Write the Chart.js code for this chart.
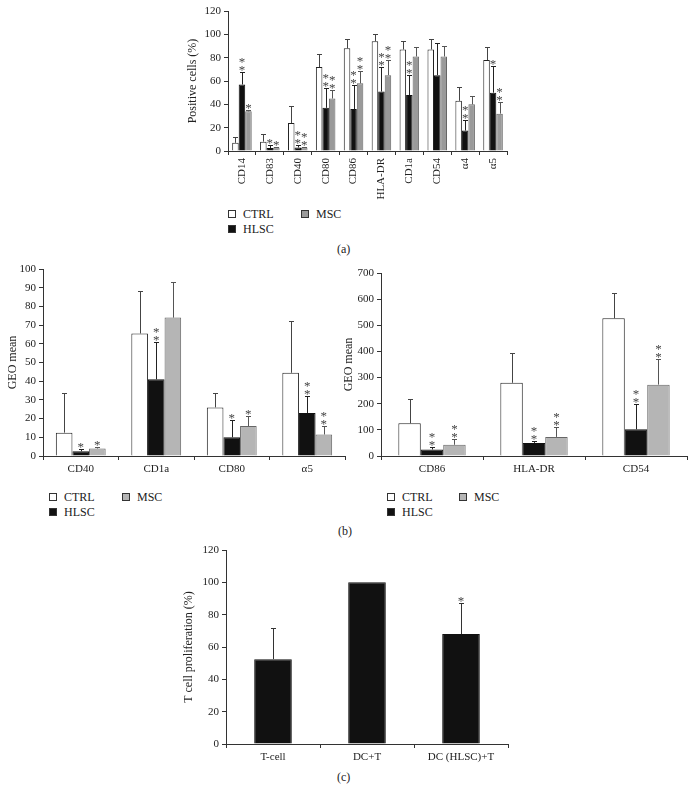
<!DOCTYPE html>
<html>
<head>
<meta charset="utf-8">
<script src="https://cdn.jsdelivr.net/npm/chart.js@4/dist/chart.umd.min.js"></script>
<style>
body{margin:0;background:#fff;width:693px;height:799px;position:relative;overflow:hidden;font-family:"Liberation Serif",serif;color:#222}
.box{position:absolute}
.lg{position:absolute;font-family:"Liberation Serif",serif;font-size:12px;line-height:12px;white-space:nowrap}
.sw{display:inline-block;width:6px;height:6px;border:1px solid #333;margin-right:7px;vertical-align:0px}
.cap{position:absolute;font-family:"Liberation Serif",serif;font-size:12px}
</style>
</head>
<body>
<div class="box" style="left:184px;top:0;width:327px;height:205px"><canvas id="chartA"></canvas></div>
<div class="box" style="left:4px;top:258px;width:344px;height:222px"><canvas id="chartB1"></canvas></div>
<div class="box" style="left:340px;top:258px;width:350px;height:222px"><canvas id="chartB2"></canvas></div>
<div class="box" style="left:180px;top:540px;width:332px;height:230px"><canvas id="chartC"></canvas></div>

<div class="lg" style="left:228px;top:208px"><span class="sw" style="background:#fff"></span>CTRL</div>
<div class="lg" style="left:228px;top:223px"><span class="sw" style="background:#111"></span>HLSC</div>
<div class="lg" style="left:301px;top:208px"><span class="sw" style="background:#9a9a9a"></span>MSC</div>
<div class="cap" style="left:337px;top:242px">(a)</div>

<div class="lg" style="left:49px;top:491px"><span class="sw" style="background:#fff"></span>CTRL</div>
<div class="lg" style="left:49px;top:506px"><span class="sw" style="background:#111"></span>HLSC</div>
<div class="lg" style="left:122px;top:491px"><span class="sw" style="background:#b5b5b5"></span>MSC</div>
<div class="lg" style="left:387px;top:491px"><span class="sw" style="background:#fff"></span>CTRL</div>
<div class="lg" style="left:387px;top:506px"><span class="sw" style="background:#111"></span>HLSC</div>
<div class="lg" style="left:459px;top:491px"><span class="sw" style="background:#b5b5b5"></span>MSC</div>
<div class="cap" style="left:338px;top:524px">(b)</div>

<div class="cap" style="left:337px;top:770px">(c)</div>

<script>
// ---------------------- data ---------------------
var markersA = ["CD14", "CD83", "CD40", "CD80", "CD86", "HLA-DR", "CD1a", "CD54", "α4", "α5"];
var ctrlA = [7, 8, 24, 72, 88, 94, 87, 87, 43, 78];
var ctrlErrA = [12, 15, 39, 83, 96, 100, 94, 96, 55, 89];
var hlscA = [57, 2.5, 3, 37, 36, 51, 48, 65, 17.5, 50];
var hlscErrA = [68, 5, 5, 54, 57, 72, 65, 93, 27, 73];
var hlscStarsA = [2, 1, 2, 2, 2, 2, 2, 0, 2, 1];
var mscA = [34, 3, 3, 45, 58, 65, 81, 81, 40, 32];
var mscErrA = [35, 3.5, 3.5, 52, 69, 78, 89, 90, 47, 42];
var mscStarsA = [1, 1, 2, 2, 2, 2, 0, 0, 0, 2];

var markersB1 = ["CD40", "CD1a", "CD80", "α5"];
var ctrlB1 = [12.5, 65.5, 26, 44.5];
var ctrlErrB1 = [33.5, 88, 33.5, 72];
var hlscB1 = [2.5, 41, 10, 23];
var hlscErrB1 = [4, 61, 19, 32];
var hlscStarsB1 = [1, 2, 1, 2];
var mscB1 = [4, 74, 16, 11.5];
var mscErrB1 = [5, 93, 21.5, 16];
var mscStarsB1 = [1, 0, 1, 2];

var markersB2 = ["CD86", "HLA-DR", "CD54"];
var ctrlB2 = [125, 280, 527];
var ctrlErrB2 = [217, 393, 622];
var hlscB2 = [25, 50, 102];
var hlscErrB2 = [33, 58, 200];
var hlscStarsB2 = [2, 2, 2];
var mscB2 = [43, 73, 273];
var mscErrB2 = [65, 112, 371];
var mscStarsB2 = [2, 2, 2];

var groupsC = ["T-cell", "DC+T", "DC (HLSC)+T"];
var prolifC = [52.5, 100, 68];
var prolifErrC = [71.5, null, 87.5];
var prolifStarsC = [0, 0, 1];

// ---------------------- error bars + stars ---------------------
var errStars = {
  id: 'errStars',
  afterDatasetsDraw: function(chart) {
    var ctx = chart.ctx, yScale = chart.scales.y;
    ctx.save();
    chart.data.datasets.forEach(function(ds, i) {
      var meta = chart.getDatasetMeta(i);
      meta.data.forEach(function(bar, j) {
        var x = Math.round(bar.x) + 0.5;
        var top = bar.y;
        if (ds.errTop && ds.errTop[j] != null) {
          top = Math.round(yScale.getPixelForValue(ds.errTop[j])) + 0.5;
          ctx.strokeStyle = ds.errColor || '#333';
          ctx.lineWidth = 1;
          ctx.beginPath();
          ctx.moveTo(x, bar.y);
          ctx.lineTo(x, top);
          ctx.moveTo(x - 2.5, top);
          ctx.lineTo(x + 2.5, top);
          ctx.stroke();
        }
        var n = ds.stars ? ds.stars[j] : 0;
        ctx.fillStyle = '#444';
        ctx.font = '13px "Liberation Serif", serif';
        ctx.textAlign = 'center';
        ctx.textBaseline = 'alphabetic';
        for (var k = 0; k < n; k++) {
          ctx.fillText('*', bar.x, top + 1 - k * 7.5);
        }
      });
    });
    ctx.restore();
  }
};

var tickFont = {family: '"Liberation Serif", serif', size: 11};
var axisColor = '#333';

function yAxis(max, step, width, title) {
  return {
    min: 0, max: max,
    ticks: {stepSize: step, font: tickFont, color: '#222', padding: 3},
    grid: {drawOnChartArea: false, tickLength: 4, color: axisColor},
    border: {color: axisColor},
    title: {display: true, text: title, font: {family: '"Liberation Serif", serif', size: 12}, color: '#222', padding: 2},
    afterFit: function(s) { s.width = width; }
  };
}

function xAxis(height, rotate) {
  return {
    ticks: {font: tickFont, color: '#222', autoSkip: false, padding: 3,
            minRotation: rotate ? 90 : 0, maxRotation: rotate ? 90 : 0},
    grid: {drawOnChartArea: false, tickLength: 4, color: axisColor, offset: true},
    border: {color: axisColor},
    afterFit: function(s) { s.height = height; }
  };
}

function groupedChart(id, labels, sets, mscColor, yOpts, xHeight, rotate, pad, catPct) {
  return new Chart(id, {
    type: 'bar',
    data: {
      labels: labels,
      datasets: [
        {label: 'CTRL', data: sets[0], errTop: sets[1], backgroundColor: '#fff', borderColor: '#222', borderWidth: 1, errColor: '#444'},
        {label: 'HLSC', data: sets[2], errTop: sets[3], stars: sets[4], backgroundColor: '#111', borderColor: '#111', borderWidth: 1, errColor: '#222'},
        {label: 'MSC', data: sets[5], errTop: sets[6], stars: sets[7], backgroundColor: mscColor, borderColor: '#666', borderWidth: 1, errColor: '#555'}
      ]
    },
    options: {
      animation: false,
      responsive: true,
      maintainAspectRatio: false,
      layout: {padding: pad},
      categoryPercentage: catPct,
      barPercentage: 1,
      plugins: {legend: {display: false}, tooltip: {enabled: false}},
      scales: {x: xAxis(xHeight, rotate), y: yOpts}
    },
    plugins: [errStars]
  });
}

// ---------------------- (a) ---------------------
groupedChart('chartA', markersA,
  [ctrlA, ctrlErrA, hlscA, hlscErrA, hlscStarsA, mscA, mscErrA, mscStarsA],
  '#9a9a9a', yAxis(120, 20, 44, 'Positive cells (%)'), 54, true,
  {top: 11, right: 4, left: 0, bottom: 0}, 0.7);

// ---------------------- (b) ---------------------
groupedChart('chartB1', markersB1,
  [ctrlB1, ctrlErrB1, hlscB1, hlscErrB1, hlscStarsB1, mscB1, mscErrB1, mscStarsB1],
  '#b5b5b5', yAxis(100, 10, 39, 'GEO mean'), 24, false,
  {top: 11, right: 3, left: 0, bottom: 0}, 0.66);

groupedChart('chartB2', markersB2,
  [ctrlB2, ctrlErrB2, hlscB2, hlscErrB2, hlscStarsB2, mscB2, mscErrB2, mscStarsB2],
  '#b5b5b5', yAxis(700, 100, 41, 'GEO mean'), 24, false,
  {top: 15, right: 3, left: 0, bottom: 0}, 0.66);

// ---------------------- (c) ---------------------
new Chart('chartC', {
  type: 'bar',
  data: {
    labels: groupsC,
    datasets: [{
      label: 'T cell proliferation',
      data: prolifC,
      errTop: prolifErrC,
      stars: prolifStarsC,
      backgroundColor: '#111',
      borderColor: '#111',
      borderWidth: 1,
      errColor: '#333'
    }]
  },
  options: {
    animation: false,
    responsive: true,
    maintainAspectRatio: false,
    layout: {padding: {top: 10, right: 4, left: 0, bottom: 0}},
    categoryPercentage: 0.4,
    barPercentage: 1,
    plugins: {legend: {display: false}, tooltip: {enabled: false}},
    scales: {x: xAxis(26, false), y: yAxis(120, 20, 46, 'T cell proliferation (%)')}
  },
  plugins: [errStars]
});
</script>
</body>
</html>
